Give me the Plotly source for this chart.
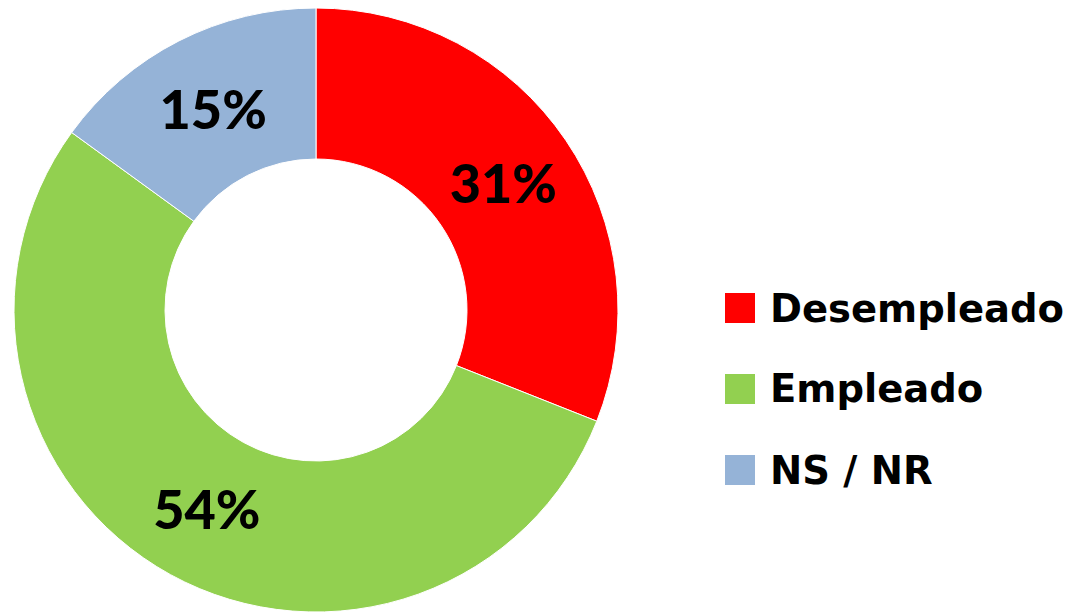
import plotly.graph_objects as go

labels = ["Desempleado", "Empleado", "NS / NR"]
values = [31, 54, 15]
colors = ["#FF0000", "#92D050", "#95B3D7"]
text_labels = ["31%", "54%", "15%"]

FONT = "Lato"
LEG_FONT = "DejaVu Sans"

W, H = 1076, 612
OFF = 8  # page body margin offset

fig = go.Figure()
fig.add_trace(go.Pie(
    labels=labels,
    values=values,
    text=text_labels,
    textinfo="text",
    textposition="inside",
    insidetextorientation="horizontal",
    hole=0.5,
    sort=False,
    direction="clockwise",
    rotation=0,
    marker=dict(colors=colors, line=dict(color="white", width=1)),
    insidetextfont=dict(family=FONT, size=54, color="black", weight=900),
    textfont=dict(family=FONT, size=54, color="black", weight=900),
    domain=dict(x=[(316 - 302 - OFF) / W, (316 + 302 - OFF) / W], y=[0, 1]),
    showlegend=False,
))

# Legend drawn as shapes + annotations from the label/color lists
plot_h = 604
leg_x0 = (725 - OFF) / W
leg_x1 = (755 - OFF) / W
leg_text_x = (768 - OFF) / W
leg_centers = [308, 389, 470]
shapes = []
annotations = []
for lab, col, cy in zip(labels, colors, leg_centers):
    yc = 1 - (cy - OFF) / plot_h
    shapes.append(dict(type="rect", xref="paper", yref="paper",
                       x0=leg_x0, x1=leg_x1, y0=yc - 15 / plot_h, y1=yc + 15 / plot_h,
                       fillcolor=col, line=dict(width=0)))
    annotations.append(dict(text="<b>" + lab + "</b>", xref="paper", yref="paper",
                            x=leg_text_x, y=yc, xanchor="left", yanchor="middle",
                            showarrow=False,
                            font=dict(family=LEG_FONT, size=38.5, color="black")))

fig.update_layout(
    width=W, height=H,
    margin=dict(l=0, r=0, t=0, b=8),
    paper_bgcolor="white",
    plot_bgcolor="white",
    shapes=shapes,
    annotations=annotations,
    uniformtext=dict(mode="show", minsize=54),
)

fig.write_html("out.html")
